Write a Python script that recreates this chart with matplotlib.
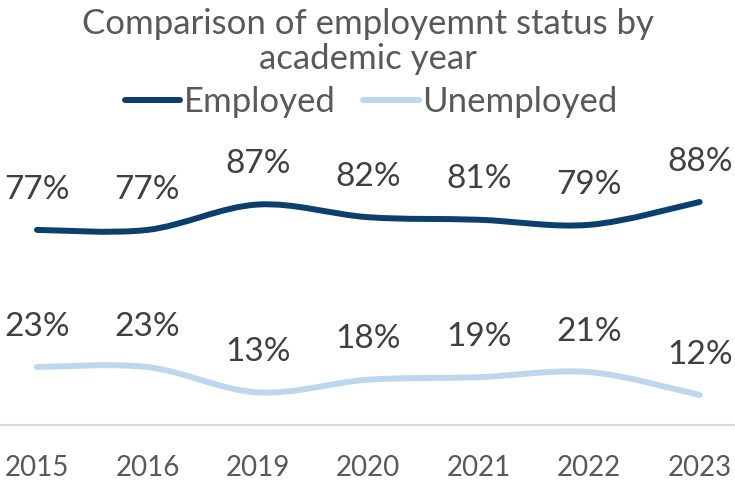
import matplotlib
matplotlib.use("Agg")
import matplotlib.pyplot as plt
from matplotlib.path import Path
from matplotlib.patches import PathPatch
from matplotlib.lines import Line2D
import numpy as np

years = ["2015", "2016", "2019", "2020", "2021", "2022", "2023"]
employed = [77, 77, 87, 82, 81, 79, 88]
unemployed = [23, 23, 13, 18, 19, 21, 12]

dark_blue = "#0B3F6E"
light_blue = "#BDD7EE"
label_gray = "#404040"
text_gray = "#595959"

plt.rcParams["font.family"] = ["Lato", "DejaVu Sans"]


def smooth_path(xs, ys):
    # bezier segments through every point, like a spreadsheet "smoothed line"
    pts = np.column_stack([xs, ys]).astype(float)
    n = len(pts)
    verts = [pts[0]]
    codes = [Path.MOVETO]
    for i in range(n - 1):
        p0 = pts[max(i - 1, 0)]
        p1 = pts[i]
        p2 = pts[i + 1]
        p3 = pts[min(i + 2, n - 1)]
        c1 = p1 + (p2 - p0) / 6.0
        c2 = p2 - (p3 - p1) / 6.0
        verts += [c1, c2, p2]
        codes += [Path.CURVE4] * 3
    return Path(verts, codes)


fig = plt.figure(figsize=(7.35, 4.8), dpi=100)
ax = fig.add_axes([0, 0.1137, 1, 0.529])

x = np.arange(len(years))
for vals, col in [(employed, dark_blue), (unemployed, light_blue)]:
    patch = PathPatch(smooth_path(x, vals), facecolor="none", edgecolor=col,
                      lw=4.3, capstyle="round", joinstyle="round")
    ax.add_patch(patch)
    for xi, v in zip(x, vals):
        ax.annotate(f"{v}%", (xi, v), xytext=(0, 29), textcoords="offset points",
                    ha="center", va="center", fontsize=24, color=label_gray)

ax.set_xlim(-0.335, len(years) - 1 + 0.32)
ax.set_ylim(0, 100)
ax.set_xticks(x)
ax.set_xticklabels(years, fontsize=20, color=text_gray)
ax.tick_params(axis="x", length=0, pad=21)
ax.set_yticks([])
for s in ["top", "left", "right"]:
    ax.spines[s].set_visible(False)
ax.spines["bottom"].set_color("#D9D9D9")
ax.spines["bottom"].set_linewidth(1.5)

fig.text(0.5, 0.913, "Comparison of employemnt status by\nacademic year",
         ha="center", va="center", fontsize=25, color=text_gray, linespacing=1.1)

handles = [Line2D([], [], color=dark_blue, lw=4.3, solid_capstyle="round"),
           Line2D([], [], color=light_blue, lw=4.3, solid_capstyle="round")]
fig.legend(handles, ["Employed", "Unemployed"], loc="center", bbox_to_anchor=(0.505, 0.787),
           ncol=2, frameon=False, fontsize=25, labelcolor=text_gray,
           handlelength=1.6, handletextpad=0.1, columnspacing=0.8)

fig.savefig("out.png", dpi=100)
